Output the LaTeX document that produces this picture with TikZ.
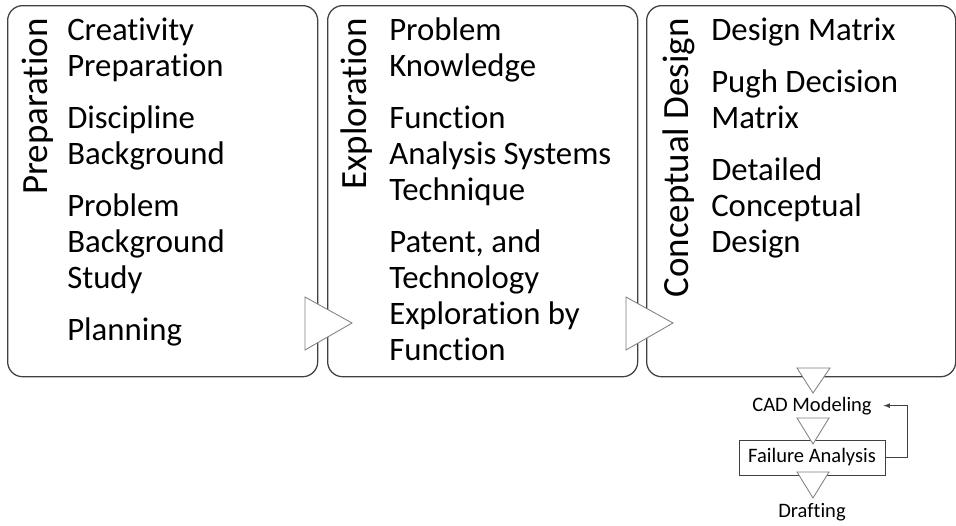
\documentclass[tikz,border=0pt]{standalone}
\usepackage{fontspec}
\setmainfont{Carlito}[Ligatures=NoCommon]
\usepackage{xcolor}
\usepackage{tikz}
\usetikzlibrary{shapes,arrows,positioning,calc}

\definecolor{edgegray}{HTML}{404040}
\definecolor{chevgray}{HTML}{7F7F7F}
\newcommand{\itemsize}{\fontsize{23.3pt}{25.6pt}\selectfont}
\newcommand{\phasesize}{\fontsize{26.3pt}{30pt}\selectfont}
\newcommand{\stepsize}{\fontsize{14.6pt}{17pt}\selectfont}
\newcommand{\gap}{\\[11.4pt]}

\begin{document}
\begin{tikzpicture}[x=0.025cm, y=-0.025cm,
    phase/.style={rectangle, draw=edgegray, line width=0.9pt, rounded corners=10.7pt, minimum width=7.75cm, minimum height=9.275cm, anchor=north west},
    phaselabel/.style={rotate=90, anchor=base east, inner sep=0pt, font=\phasesize},
    itemlist/.style={anchor=north west, align=left, inner sep=0pt, font=\itemsize},
    chev/.style={draw=chevgray, fill=white, line width=0.6pt},
    stepname/.style={anchor=base, inner ysep=1pt, font=\stepsize}]
        \useasboundingbox (0,0) rectangle (956,526);

        % the three phases
        \node (prep) [phase] at (7,5) {};
        \node (expl) [phase] at (327,5) {};
        \node (concept) [phase, minimum width=7.725cm] at (646,5) {};

        \draw[chev] (305,297) -- (352,323) -- (305,350) -- cycle;
        \draw[chev] (626,297) -- (673,323) -- (626,350) -- cycle;

        \node (preplabel) [phaselabel] at (47,18) {Preparation};
        \node (expllabel) [phaselabel] at (366,18) {Exploration};
        \node (conceptlabel) [phaselabel] at (688,18) {Conceptual Design};

        \node (prepitems) [itemlist] at (67,14.8) {\strut Creativity\\ Preparation\gap Discipline\\ Background\gap Problem\\ Background\\ Study\gap Planning};
        \node (explitems) [itemlist] at (389,14.8) {\strut Problem\\ Knowledge\gap Function\\ Analysis Systems\\ Technique\gap Patent, and\\ Technology\\ Exploration by\\ Function};
        \node (conceptitems) [itemlist] at (711,14.8) {\strut Design Matrix\gap Pugh Decision\\ Matrix\gap Detailed\\ Conceptual\\ Design};

        % detailed design steps
        \node (cad) [stepname, inner xsep=8.2pt] at (812,411) {CAD Modeling};
        \node (fail) [rectangle, draw=edgegray, line width=0.6pt, minimum width=3.65cm, minimum height=0.875cm, inner sep=0pt, font=\stepsize] at (812,457.5) {Failure Analysis};
        \node (draft) [stepname] at (812,517) {Drafting};

        \draw[chev] (797,368) -- (830,368) -- (813,393) -- cycle;
        \draw[chev] (797,418) -- (829,418) -- (813,444) -- cycle;
        \draw[chev] (797,472) -- (829,472) -- (813,498) -- cycle;

        \draw[-latex, edgegray, line width=0.6pt] (fail.east) -- ++(22,0) |- (cad.east);
    \end{tikzpicture}
\end{document}
